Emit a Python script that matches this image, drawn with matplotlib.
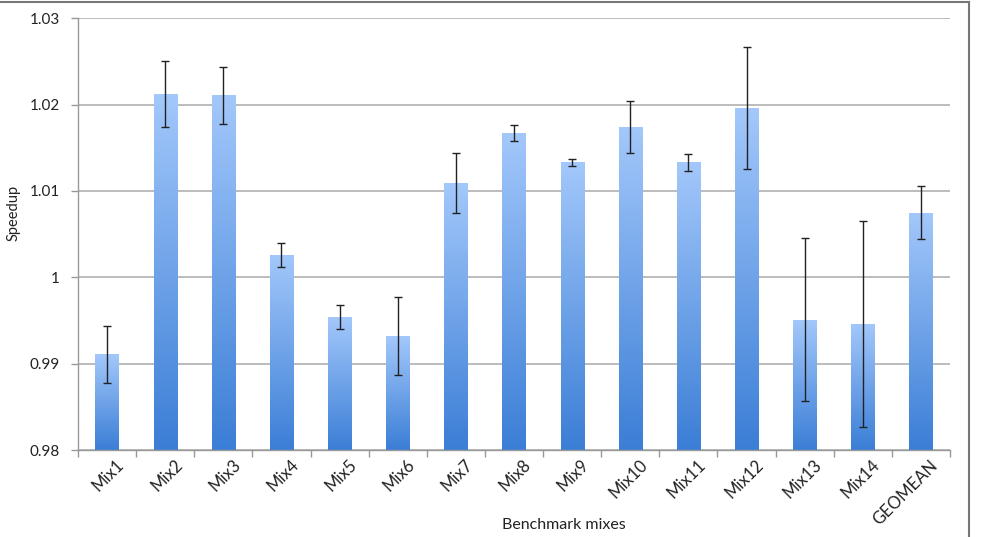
import numpy as np
import matplotlib
matplotlib.use("Agg")
import matplotlib.pyplot as plt
from matplotlib.colors import LinearSegmentedColormap
from matplotlib.lines import Line2D
from matplotlib.transforms import ScaledTranslation

plt.rcParams['font.family'] = ['Lato', 'DejaVu Sans']

# Data
mixes = ['Mix1', 'Mix2', 'Mix3', 'Mix4', 'Mix5', 'Mix6', 'Mix7', 'Mix8',
         'Mix9', 'Mix10', 'Mix11', 'Mix12', 'Mix13', 'Mix14', 'GEOMEAN']
speedup = [0.9911, 1.0212, 1.0211, 1.0026, 0.9954, 0.9932, 1.0109, 1.0167,
           1.0133, 1.0174, 1.0133, 1.0196, 0.9951, 0.9946, 1.0075]
err = [0.0033, 0.0038, 0.0033, 0.00135, 0.0014, 0.0045, 0.0035, 0.00095,
       0.0004, 0.0030, 0.00095, 0.0071, 0.0094, 0.0119, 0.0031]
yticks = [0.98, 0.99, 1.00, 1.01, 1.02, 1.03]
ytick_labels = ['0.98', '0.99', '1', '1.01', '1.02', '1.03']

fig = plt.figure(figsize=(9.85, 5.37), dpi=100)
ax = fig.add_axes([78 / 985, 87 / 537, 872 / 985, 431.7 / 537])

ymin, ymax = 0.98, 1.03
x = np.arange(len(mixes))
width = 0.4

# gradient: light at the top, darker blue at the bottom
cmap = LinearSegmentedColormap.from_list('bar', ['#3b7ed6', '#a3c8fb'])
grad = np.linspace(0, 1, 256).reshape(-1, 1)

bars = ax.bar(x, np.array(speedup) - ymin, width, bottom=ymin,
              color='none', edgecolor='none', zorder=2)
for b in bars:
    x0, y0 = b.get_x(), b.get_y()
    im = ax.imshow(grad, cmap=cmap, aspect='auto', origin='lower',
                   extent=[x0, x0 + b.get_width(), y0, y0 + b.get_height()],
                   zorder=2)
    im.set_clip_path(b)

ax.errorbar(x, speedup, yerr=err, fmt='none', ecolor='#222222',
            elinewidth=1, capsize=3.2, capthick=1, zorder=3)

ax.set_xlim(-0.5, len(mixes) - 0.5)
ax.set_ylim(ymin, ymax)
ax.set_yticks(yticks)
ax.set_yticklabels(ytick_labels)
ax.yaxis.grid(True, color='#b0b0b0', linewidth=1.2)
ax.set_axisbelow(True)

ax.set_xticks(x)
ax.set_xticklabels(mixes, rotation=45, ha='right', va='top',
                   rotation_mode='anchor')
ax.set_xticks(np.arange(-0.5, len(mixes), 1.0), minor=True)
ax.tick_params(axis='x', which='major', length=0, pad=5, labelsize=12,
               colors='#222222')
ax.tick_params(axis='x', which='minor', length=5, color='#999999', width=1)
ax.tick_params(axis='y', length=5, color='#999999', width=1, pad=8,
               labelsize=11, colors='#222222')
shift = ScaledTranslation(9 / 100, 0, fig.dpi_scale_trans)
for lbl in ax.get_xticklabels():
    lbl.set_transform(lbl.get_transform() + shift)

for s in ['top', 'right']:
    ax.spines[s].set_visible(False)
for s in ['left', 'bottom']:
    ax.spines[s].set_color('#999999')
    ax.spines[s].set_linewidth(1)

ax.set_ylabel('Speedup', fontsize=10.5, color='#222222')
ax.yaxis.set_label_coords(-0.066, 0.55)
ax.set_xlabel('Benchmark mixes', fontsize=11.5, color='#222222')
ax.xaxis.set_label_coords(0.557, -0.158)

# outer frame of the original screenshot
fig.add_artist(Line2D([0, 968.5 / 985], [1 - 1.5 / 537, 1 - 1.5 / 537],
                      transform=fig.transFigure, color='#777777', linewidth=1.5))
fig.add_artist(Line2D([968.5 / 985, 968.5 / 985], [0, 1 - 1.5 / 537],
                      transform=fig.transFigure, color='#777777', linewidth=1.5))

fig.savefig('out.png', dpi=100)
